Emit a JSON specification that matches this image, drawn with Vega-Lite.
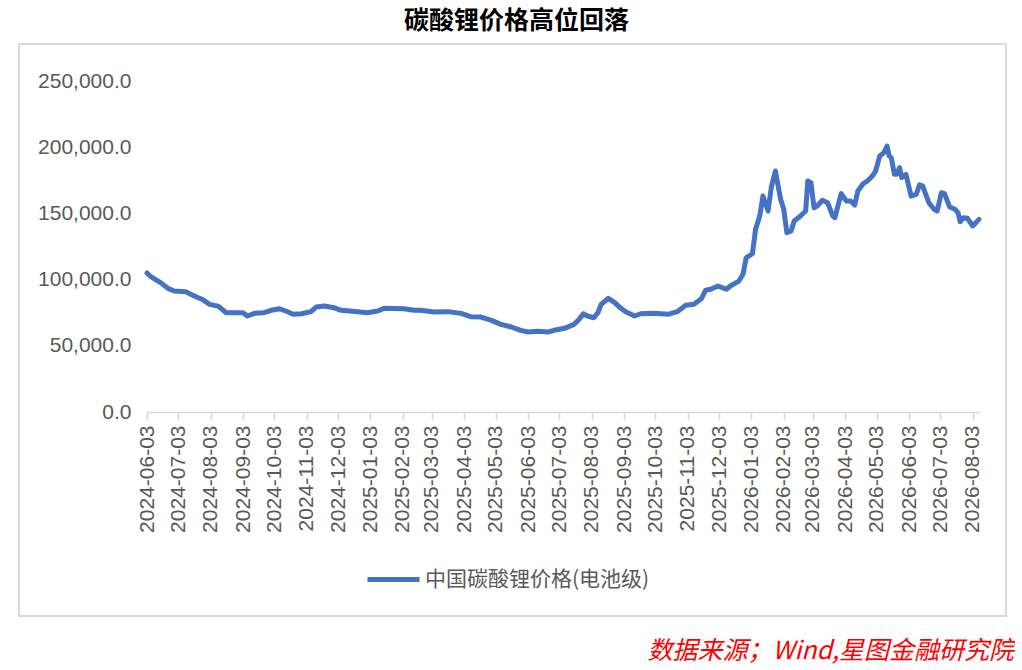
{
  "$schema": "https://vega.github.io/schema/vega-lite/v6.json",
  "padding": {"left": 18, "top": 9, "right": 0, "bottom": 0},
  "background": "white",
  "title": {
    "text": "碳酸锂价格高位回落",
    "font": "Noto Sans CJK SC",
    "fontSize": 25,
    "fontWeight": "bold",
    "color": "#000000",
    "anchor": "middle",
    "offset": 9
  },
  "vconcat": [
    {
      "width": 987,
      "height": 572,
      "title": {
        "text": "数据来源；Wind,星图金融研究院",
        "orient": "bottom",
        "anchor": "end",
        "font": "Noto Sans CJK SC",
        "fontSize": 25,
        "fontStyle": "italic",
        "fontWeight": "normal",
        "color": "#FF0000",
        "offset": 23,
        "dx": 8
      },
      "data": {
        "values": [
          {"date": "2024-06-03", "price": 105000},
          {"date": "2024-06-07", "price": 102000},
          {"date": "2024-06-16", "price": 97700},
          {"date": "2024-06-23", "price": 93400},
          {"date": "2024-06-29", "price": 91400},
          {"date": "2024-07-10", "price": 90900},
          {"date": "2024-07-15", "price": 88900},
          {"date": "2024-07-22", "price": 86300},
          {"date": "2024-07-26", "price": 85100},
          {"date": "2024-08-02", "price": 81300},
          {"date": "2024-08-10", "price": 80000},
          {"date": "2024-08-18", "price": 75000},
          {"date": "2024-08-29", "price": 75000},
          {"date": "2024-09-03", "price": 75000},
          {"date": "2024-09-07", "price": 72500},
          {"date": "2024-09-14", "price": 74500},
          {"date": "2024-09-23", "price": 75000},
          {"date": "2024-09-30", "price": 76800},
          {"date": "2024-10-08", "price": 78000},
          {"date": "2024-10-14", "price": 76300},
          {"date": "2024-10-21", "price": 73800},
          {"date": "2024-10-29", "price": 74200},
          {"date": "2024-11-07", "price": 75800},
          {"date": "2024-11-12", "price": 79300},
          {"date": "2024-11-20", "price": 80000},
          {"date": "2024-11-29", "price": 78800},
          {"date": "2024-12-06", "price": 76800},
          {"date": "2024-12-22", "price": 75800},
          {"date": "2024-12-31", "price": 75000},
          {"date": "2025-01-10", "price": 76300},
          {"date": "2025-01-16", "price": 78300},
          {"date": "2025-02-04", "price": 78000},
          {"date": "2025-02-14", "price": 76800},
          {"date": "2025-02-20", "price": 76800},
          {"date": "2025-03-05", "price": 75500},
          {"date": "2025-03-18", "price": 75800},
          {"date": "2025-03-31", "price": 74500},
          {"date": "2025-04-09", "price": 72000},
          {"date": "2025-04-19", "price": 71700},
          {"date": "2025-04-29", "price": 69200},
          {"date": "2025-05-08", "price": 66200},
          {"date": "2025-05-18", "price": 64200},
          {"date": "2025-05-27", "price": 61700},
          {"date": "2025-06-03", "price": 60400},
          {"date": "2025-06-12", "price": 61000},
          {"date": "2025-06-22", "price": 60400},
          {"date": "2025-06-28", "price": 61700},
          {"date": "2025-07-08", "price": 63200},
          {"date": "2025-07-17", "price": 66200},
          {"date": "2025-07-22", "price": 70000},
          {"date": "2025-07-26", "price": 74200},
          {"date": "2025-07-30", "price": 72500},
          {"date": "2025-08-05", "price": 71200},
          {"date": "2025-08-09", "price": 75000},
          {"date": "2025-08-12", "price": 81300},
          {"date": "2025-08-19", "price": 85900},
          {"date": "2025-08-25", "price": 82600},
          {"date": "2025-08-31", "price": 78300},
          {"date": "2025-09-05", "price": 75500},
          {"date": "2025-09-13", "price": 72500},
          {"date": "2025-09-19", "price": 74200},
          {"date": "2025-10-02", "price": 74500},
          {"date": "2025-10-15", "price": 73800},
          {"date": "2025-10-24", "price": 75800},
          {"date": "2025-11-01", "price": 80600},
          {"date": "2025-11-09", "price": 81300},
          {"date": "2025-11-16", "price": 85500},
          {"date": "2025-11-20", "price": 91900},
          {"date": "2025-11-25", "price": 92700},
          {"date": "2025-12-02", "price": 95200},
          {"date": "2025-12-10", "price": 92700},
          {"date": "2025-12-14", "price": 95200},
          {"date": "2025-12-22", "price": 98900},
          {"date": "2025-12-26", "price": 104000},
          {"date": "2025-12-29", "price": 116500},
          {"date": "2026-01-04", "price": 119600},
          {"date": "2026-01-07", "price": 138000},
          {"date": "2026-01-11", "price": 148000},
          {"date": "2026-01-14", "price": 163100},
          {"date": "2026-01-19", "price": 151800},
          {"date": "2026-01-22", "price": 169400},
          {"date": "2026-01-26", "price": 182000},
          {"date": "2026-01-31", "price": 160600},
          {"date": "2026-02-03", "price": 153100},
          {"date": "2026-02-06", "price": 135400},
          {"date": "2026-02-10", "price": 136700},
          {"date": "2026-02-13", "price": 144300},
          {"date": "2026-02-19", "price": 148000},
          {"date": "2026-02-24", "price": 151800},
          {"date": "2026-02-26", "price": 174500},
          {"date": "2026-03-01", "price": 173200},
          {"date": "2026-03-04", "price": 154300},
          {"date": "2026-03-07", "price": 155600},
          {"date": "2026-03-12", "price": 159900},
          {"date": "2026-03-17", "price": 158100},
          {"date": "2026-03-22", "price": 148000},
          {"date": "2026-03-24", "price": 146800},
          {"date": "2026-03-30", "price": 164900},
          {"date": "2026-04-04", "price": 159400},
          {"date": "2026-04-08", "price": 159400},
          {"date": "2026-04-12", "price": 156300},
          {"date": "2026-04-15", "price": 166900},
          {"date": "2026-04-20", "price": 172400},
          {"date": "2026-04-24", "price": 174500},
          {"date": "2026-04-29", "price": 178300},
          {"date": "2026-05-02", "price": 182000},
          {"date": "2026-05-06", "price": 193400},
          {"date": "2026-05-10", "price": 195900},
          {"date": "2026-05-13", "price": 200900},
          {"date": "2026-05-15", "price": 193400},
          {"date": "2026-05-17", "price": 192100},
          {"date": "2026-05-20", "price": 179500},
          {"date": "2026-05-22", "price": 179500},
          {"date": "2026-05-25", "price": 184500},
          {"date": "2026-05-27", "price": 177000},
          {"date": "2026-05-31", "price": 179500},
          {"date": "2026-06-05", "price": 163100},
          {"date": "2026-06-10", "price": 164400},
          {"date": "2026-06-13", "price": 171500},
          {"date": "2026-06-16", "price": 170700},
          {"date": "2026-06-22", "price": 158100},
          {"date": "2026-06-27", "price": 153100},
          {"date": "2026-06-30", "price": 151800},
          {"date": "2026-07-04", "price": 165600},
          {"date": "2026-07-07", "price": 164900},
          {"date": "2026-07-12", "price": 154800},
          {"date": "2026-07-17", "price": 153100},
          {"date": "2026-07-20", "price": 150500},
          {"date": "2026-07-22", "price": 143700},
          {"date": "2026-07-25", "price": 146800},
          {"date": "2026-07-29", "price": 146300},
          {"date": "2026-08-03", "price": 140500},
          {"date": "2026-08-09", "price": 145500}
        ]
      },
      "mark": {"type": "line", "strokeWidth": 5, "strokeJoin": "round", "strokeCap": "round"},
      "encoding": {
        "x": {
          "field": "date",
          "type": "temporal",
          "scale": {
            "type": "utc",
            "domain": [
              {"year": 2024, "month": 6, "date": 3, "utc": true},
              {"year": 2026, "month": 8, "date": 10, "utc": true}
            ],
            "range": [128, 961]
          },
          "axis": {
            "title": null,
            "offset": -204,
            "values": [
              {"year": 2024, "month": 6, "date": 3, "utc": true},
              {"year": 2024, "month": 7, "date": 3, "utc": true},
              {"year": 2024, "month": 8, "date": 3, "utc": true},
              {"year": 2024, "month": 9, "date": 3, "utc": true},
              {"year": 2024, "month": 10, "date": 3, "utc": true},
              {"year": 2024, "month": 11, "date": 3, "utc": true},
              {"year": 2024, "month": 12, "date": 3, "utc": true},
              {"year": 2025, "month": 1, "date": 3, "utc": true},
              {"year": 2025, "month": 2, "date": 3, "utc": true},
              {"year": 2025, "month": 3, "date": 3, "utc": true},
              {"year": 2025, "month": 4, "date": 3, "utc": true},
              {"year": 2025, "month": 5, "date": 3, "utc": true},
              {"year": 2025, "month": 6, "date": 3, "utc": true},
              {"year": 2025, "month": 7, "date": 3, "utc": true},
              {"year": 2025, "month": 8, "date": 3, "utc": true},
              {"year": 2025, "month": 9, "date": 3, "utc": true},
              {"year": 2025, "month": 10, "date": 3, "utc": true},
              {"year": 2025, "month": 11, "date": 3, "utc": true},
              {"year": 2025, "month": 12, "date": 3, "utc": true},
              {"year": 2026, "month": 1, "date": 3, "utc": true},
              {"year": 2026, "month": 2, "date": 3, "utc": true},
              {"year": 2026, "month": 3, "date": 3, "utc": true},
              {"year": 2026, "month": 4, "date": 3, "utc": true},
              {"year": 2026, "month": 5, "date": 3, "utc": true},
              {"year": 2026, "month": 6, "date": 3, "utc": true},
              {"year": 2026, "month": 7, "date": 3, "utc": true},
              {"year": 2026, "month": 8, "date": 3, "utc": true}
            ],
            "format": "%Y-%m-%d",
            "labelAngle": 270,
            "labelFont": "Liberation Sans",
            "labelFontSize": 21,
            "labelColor": "#595959",
            "labelPadding": 5,
            "labelOverlap": false,
            "labelFlush": false,
            "labelBound": false,
            "grid": false,
            "tickSize": 8,
            "tickColor": "#d9d9d9",
            "tickWidth": 1.5,
            "domainColor": "#d9d9d9",
            "domainWidth": 1.5
          }
        },
        "y": {
          "field": "price",
          "type": "quantitative",
          "scale": {"domain": [0, 250000], "range": [368, 37]},
          "axis": {
            "title": null,
            "offset": -128,
            "values": [0, 50000, 100000, 150000, 200000, 250000],
            "format": ",.1f",
            "labelFont": "Liberation Sans",
            "labelFontSize": 21,
            "labelColor": "#595959",
            "labelPadding": 16,
            "domain": false,
            "ticks": false,
            "grid": false
          }
        },
        "color": {
          "datum": "中国碳酸锂价格(电池级)",
          "type": "nominal",
          "scale": {"range": ["#4472C4"]},
          "legend": {
            "title": null,
            "orient": "none",
            "legendX": 346,
            "legendY": 507,
            "symbolType": "stroke",
            "symbolSize": 2704,
            "symbolStrokeWidth": 5,
            "labelFont": "Noto Sans CJK SC",
            "labelFontSize": 21,
            "labelColor": "#595959",
            "labelOffset": 3,
            "labelLimit": 400
          }
        }
      }
    }
  ],
  "config": {
    "view": {"stroke": "#d9d9d9", "strokeWidth": 2}
  }
}
